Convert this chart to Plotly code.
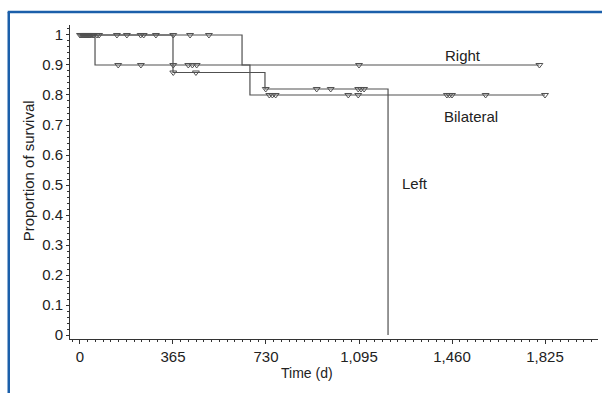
import plotly.graph_objects as go

# ---- data (days, survival proportion) ----
right_times = [0, 59, 1803]
right_surv = [1.0, 0.9, 0.9]
bilateral_times = [0, 636, 667, 1825]
bilateral_surv = [1.0, 0.9, 0.8, 0.8]
left_times = [0, 365, 726, 1209]
left_surv = [1.0, 0.875, 0.82, 0.0]

# censored observations
cens_one_times = [0, 4, 8, 12, 16, 20, 24, 28, 32, 36, 40, 45, 50, 55, 67, 75,
                  145, 184, 238, 250, 298, 366, 432, 506]
cens_right_times = [150, 239, 366, 425, 441, 458, 1095, 1803]
cens_left1_times = [366, 455]
cens_left2_times = [729, 929, 984, 1092, 1103, 1115]
cens_bil_times = [743, 755, 768, 1053, 1092, 1440, 1450, 1460, 1592, 1825]

x_tickvals = [0, 365, 730, 1095, 1460, 1825]
x_ticktext = ["0", "365", "730", "1,095", "1,460", "1,825"]
y_tickvals = [0, 0.1, 0.2, 0.3, 0.4, 0.5, 0.6, 0.7, 0.8, 0.9, 1]
y_ticktext = ["0", "0.1", "0.2", "0.3", "0.4", "0.5", "0.6", "0.7", "0.8", "0.9", "1"]

labels = ["Right", "Bilateral", "Left"]
label_x = [1503, 1536, 1315]
label_y = [0.93, 0.73, 0.505]

LINE = "#505050"
FONT = "Liberation Sans, Arial, Helvetica, sans-serif"

fig = go.Figure()
for t, s in [(right_times, right_surv), (bilateral_times, bilateral_surv), (left_times, left_surv)]:
    fig.add_trace(go.Scatter(x=t, y=s, mode="lines", line=dict(color=LINE, width=1.2, shape="hv"),
                             showlegend=False, hoverinfo="skip"))

for t, lvl in [(cens_one_times, 1.0), (cens_right_times, 0.9), (cens_left1_times, 0.875),
               (cens_left2_times, 0.82), (cens_bil_times, 0.8)]:
    fig.add_trace(go.Scatter(x=t, y=[lvl] * len(t), mode="markers",
                             marker=dict(symbol="triangle-down-open", size=6, color=LINE,
                                         line=dict(width=1, color=LINE)),
                             showlegend=False, hoverinfo="skip"))

for txt, lx, ly in zip(labels, label_x, label_y):
    fig.add_annotation(x=lx, y=ly, text=txt, showarrow=False, xanchor="center", yanchor="middle",
                       font=dict(size=15, color="#222", family=FONT))

fig.add_annotation(xref="paper", yref="paper", x=0.449, y=-0.108, text="Time (d)", showarrow=False,
                   xanchor="center", yanchor="middle", font=dict(size=14, color="#222", family=FONT))
fig.add_annotation(xref="paper", yref="paper", x=-0.079, y=0.535, text="Proportion of survival",
                   showarrow=False, textangle=-90, xanchor="center", yanchor="middle",
                   font=dict(size=15, color="#222", family=FONT))

BLUE = "#1b5faa"
fig.add_shape(type="line", xref="paper", yref="paper", x0=-0.116, x1=-0.116, y0=1.0414, y1=-0.3,
              line=dict(color=BLUE, width=2.5))
fig.add_shape(type="line", xref="paper", yref="paper", x0=-0.118, x1=1.05, y0=1.0414, y1=1.0414,
              line=dict(color=BLUE, width=2.5))

fig.update_layout(
    width=602, height=393,
    margin=dict(l=70, r=4, t=25, b=54),
    paper_bgcolor="white", plot_bgcolor="white",
    font=dict(family=FONT, size=15, color="#222"),
    showlegend=False,
)
fig.update_xaxes(range=[-39.2, 2033], tickvals=x_tickvals, ticktext=x_ticktext,
                 showgrid=False, zeroline=False, showline=True, linecolor="#333", linewidth=1,
                 ticks="outside", ticklen=4, tickcolor="#333", tickwidth=1,
                 minor=dict(dtick=365 / 12, tick0=0, ticks="outside", ticklen=2, tickcolor="#333", showgrid=False),
                 tickfont=dict(size=15, family=FONT, color="#222"))
fig.update_yaxes(range=[-0.0133, 1.0333], tickvals=y_tickvals, ticktext=y_ticktext,
                 showgrid=False, zeroline=False, showline=True, linecolor="#333", linewidth=1,
                 ticks="outside", ticklen=3, tickcolor="#333", tickwidth=1,
                 minor=dict(dtick=0.02, tick0=0, ticks="outside", ticklen=2, tickcolor="#333", showgrid=False),
                 tickfont=dict(size=15, family=FONT, color="#222"))

fig.write_html("out.html")
